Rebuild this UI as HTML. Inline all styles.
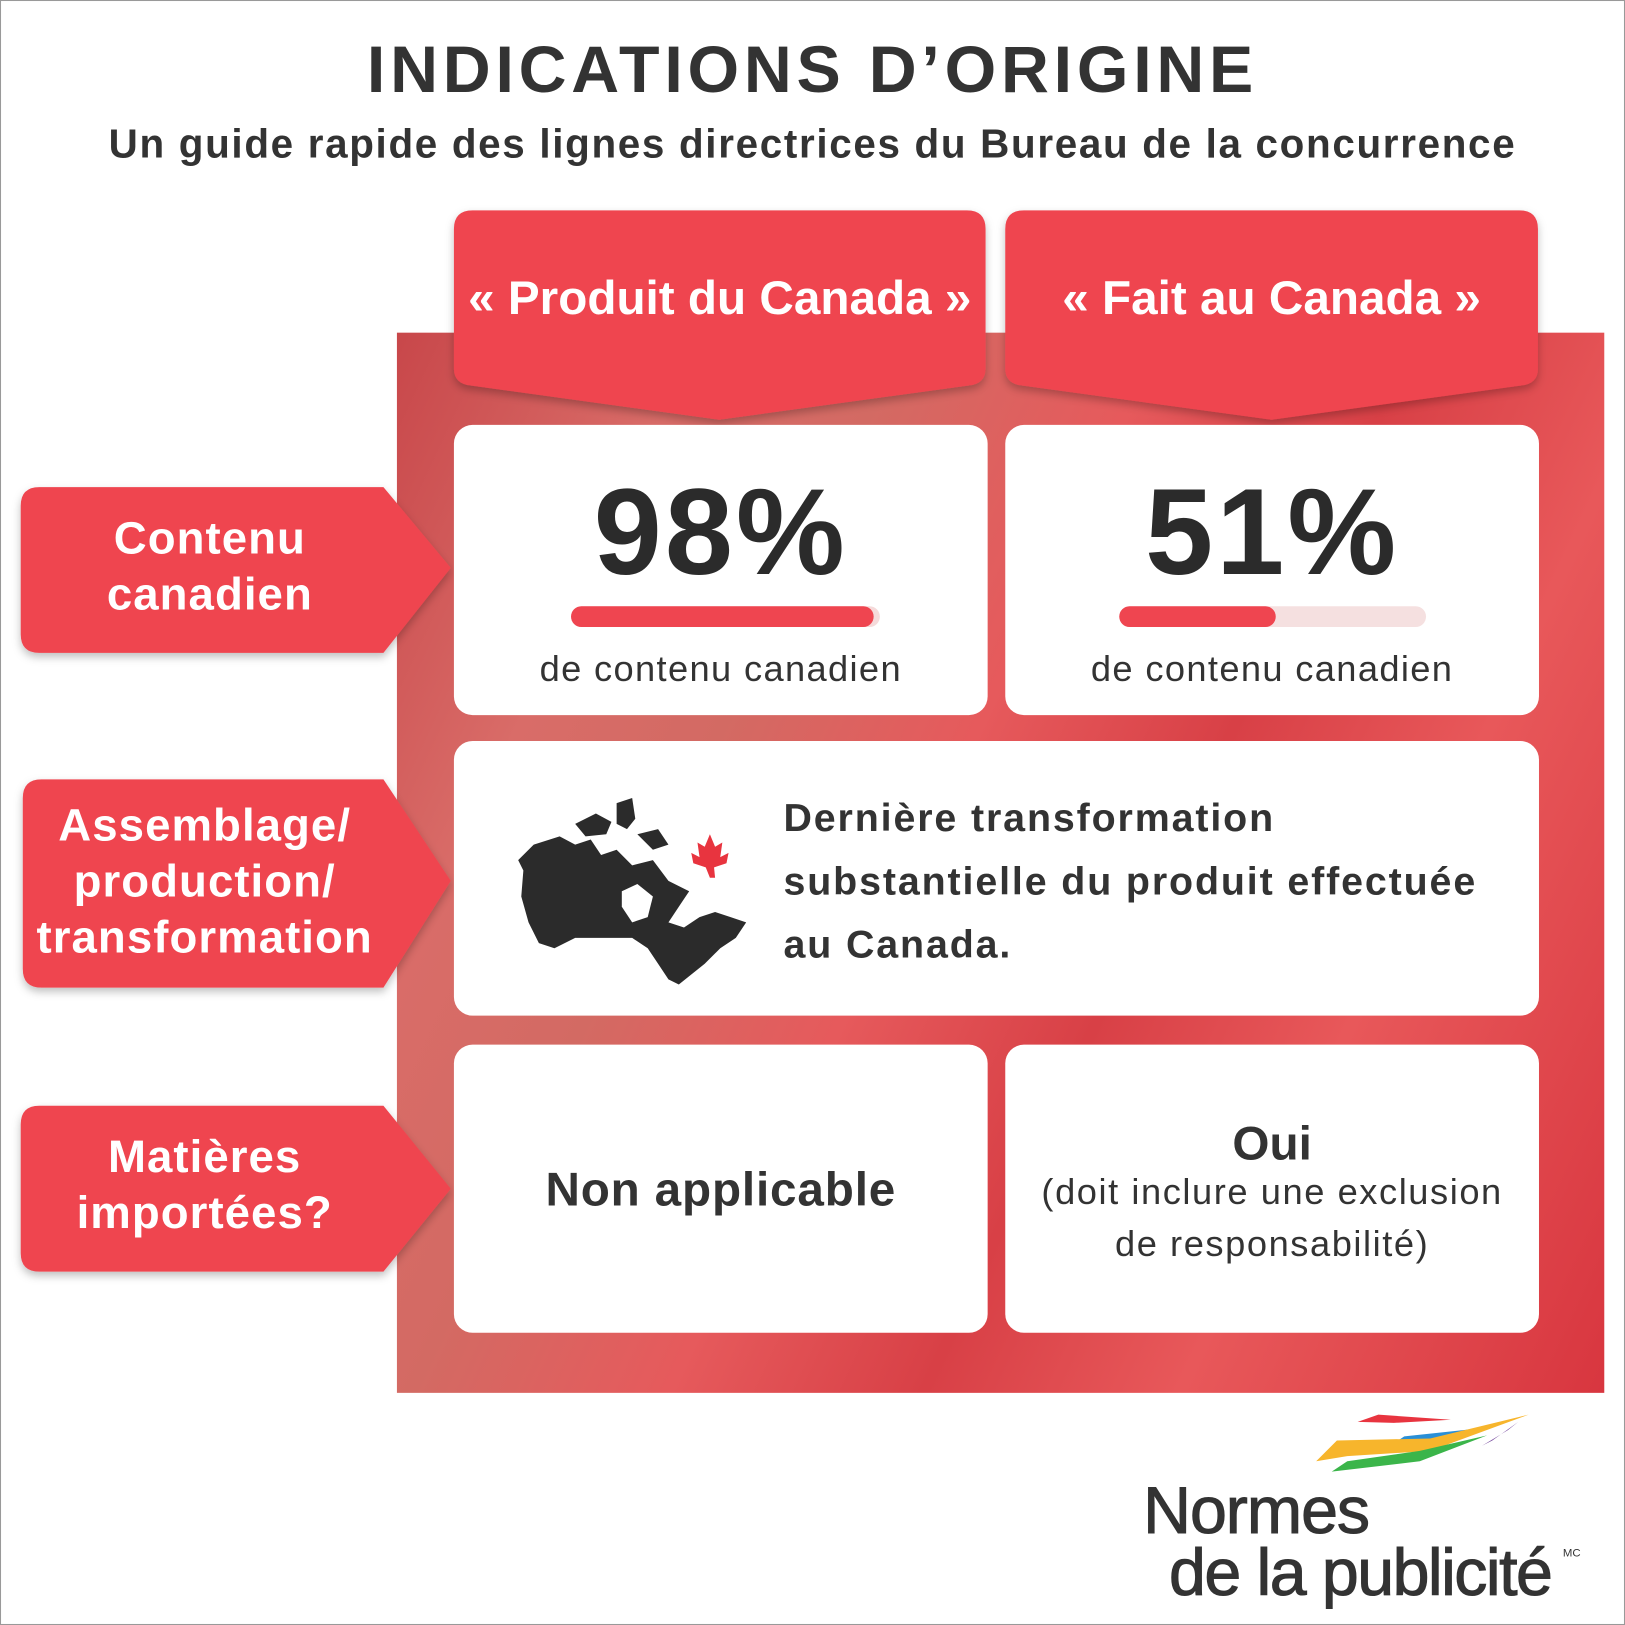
<!DOCTYPE html>
<html><head><meta charset="utf-8"><style>
html,body{margin:0;padding:0;background:#fff;}
body{width:1625px;height:1625px;overflow:hidden;}
#w{width:1568px;height:1568px;transform:scale(1.036352);transform-origin:0 0;position:relative;font-family:"Liberation Sans",Arial,sans-serif;}
.a{position:absolute;}
.frame{left:0;top:0;width:1566px;height:1566px;border:1px solid #999;}
.title{left:0;width:1568px;top:30px;text-align:center;font-size:64px;font-weight:bold;color:#333;letter-spacing:4.6px;}
.sub{left:0;width:1568px;top:118px;text-align:center;font-size:39px;font-weight:bold;color:#333;letter-spacing:1.6px;}
.bg{left:383px;top:321px;width:1165px;height:1023px;
background:linear-gradient(115deg,#c8474a 0%,#d96c68 18%,#d36a63 30%,#e65a5c 45%,#d84046 60%,#e8585a 75%,#d8363f 100%);}
.box{background:#fff;border-radius:18px;}
.tab{color:#fff;font-size:46px;font-weight:bold;text-align:center;}
.lab{color:#fff;font-weight:bold;text-align:center;line-height:54px;}
.pct{font-size:118px;font-weight:900;color:#2b2b2b;text-align:center;letter-spacing:3px;}
.sm{font-size:35px;color:#333;text-align:center;letter-spacing:1.3px;}
</style></head><body><div id="w">
<div class="a frame"></div>
<div class="a title">INDICATIONS D’ORIGINE</div>
<div class="a sub">Un guide rapide des lignes directrices du Bureau de la concurrence</div>
<div class="a bg"></div>
<svg class="a" style="left:0;top:0" width="1568" height="1568">
<defs><filter id="s" x="-10%" y="-10%" width="120%" height="130%"><feDropShadow dx="0" dy="4" stdDeviation="4" flood-opacity="0.25"/></filter></defs>
<g fill="#ef4550" filter="url(#s)">
<path d="M456 203H933Q951 203 951 221V356Q951 370 935 372L694 405L454 372Q438 370 438 356V221Q438 203 456 203Z"/>
<path d="M988 203H1466Q1484 203 1484 221V356Q1484 370 1468 372L1227 405L986 372Q970 370 970 356V221Q970 203 988 203Z"/>
<path d="M38 470H370L435 548L370 630H38Q20 630 20 612V488Q20 470 38 470Z"/>
<path d="M40 752H370L435 850L370 953H40Q22 953 22 935V770Q22 752 40 752Z"/>
<path d="M38 1067H370L435 1147L370 1227H38Q20 1227 20 1209V1085Q20 1067 38 1067Z"/>
</g>
</svg>
<div class="a tab" style="left:438px;top:260px;width:513px">« Produit du Canada »</div>
<div class="a tab" style="left:970px;top:260px;width:514px">« Fait au Canada »</div>
<div class="a lab" style="left:20px;top:493px;width:365px;font-size:44px;letter-spacing:1px">Contenu<br>canadien</div>
<div class="a lab" style="left:15px;top:770px;width:365px;font-size:44px;line-height:54px;letter-spacing:1px">Assemblage/<br>production/<br>transformation</div>
<div class="a lab" style="left:15px;top:1090px;width:365px;font-size:44px;letter-spacing:1px">Matières<br>importées?</div>

<div class="a box" style="left:438px;top:410px;width:515px;height:280px"></div>
<div class="a box" style="left:970px;top:410px;width:515px;height:280px"></div>
<div class="a box" style="left:438px;top:715px;width:1047px;height:265px"></div>
<div class="a box" style="left:438px;top:1008px;width:515px;height:278px"></div>
<div class="a box" style="left:970px;top:1008px;width:515px;height:278px"></div>

<div class="a pct" style="left:438px;top:446px;width:515px">98%</div>
<div class="a pct" style="left:970px;top:446px;width:515px">51%</div>
<div class="a" style="left:551px;top:585px;width:298px;height:20px;border-radius:10px;background:#f5dada"></div>
<div class="a" style="left:551px;top:585px;width:292px;height:20px;border-radius:10px;background:#ef4550"></div>
<div class="a" style="left:1080px;top:585px;width:296px;height:20px;border-radius:10px;background:#f5e0e0"></div>
<div class="a" style="left:1080px;top:585px;width:151px;height:20px;border-radius:10px;background:#ef4550"></div>
<div class="a sm" style="left:438px;top:626px;width:515px">de contenu canadien</div>
<div class="a sm" style="left:970px;top:626px;width:515px">de contenu canadien</div>

<svg class="a" style="left:495px;top:765px" width="235" height="190" viewBox="0 0 235 190">
<path fill="#2b2b2b" d="M20 50L45 42L60 50L75 45L85 60L100 55L115 70L135 65L150 85L170 95L160 110L150 125L165 130L180 120L195 115L210 120L225 125L215 140L200 150L185 165L160 185L150 180L140 165L130 150L115 140L60 140L40 150L25 145L15 125L8 100L10 75L5 65Z M60 30L80 20L95 28L90 40L70 42Z M100 10L115 5L118 25L110 35L100 30Z M120 40L140 35L150 50L135 55Z"/>
<path fill="#fff" d="M105 95L120 88L135 100L130 120L115 125L105 110Z"/>
<path fill="#e8343f" d="M190 40L195 52L202 48L200 62L208 58L206 68L194 72L195 82L190 82L186 72L174 68L172 58L180 62L178 48L185 52Z"/>
</svg>
<div class="a" style="left:756px;top:760px;font-size:38px;font-weight:bold;color:#333;line-height:61px;letter-spacing:1.8px">Dernière transformation<br>substantielle du produit effectuée<br>au Canada.</div>

<div class="a" style="left:438px;top:1120px;width:515px;text-align:center;font-size:46px;font-weight:bold;color:#333;letter-spacing:0.8px">Non applicable</div>
<div class="a" style="left:970px;top:1076px;width:515px;text-align:center;font-size:46px;font-weight:bold;color:#333">Oui</div>
<div class="a sm" style="left:970px;top:1126px;width:515px;line-height:50px;letter-spacing:1.5px">(doit inclure une exclusion<br>de responsabilité)</div>

<svg class="a" style="left:1260px;top:1360px" width="220" height="70">
<path fill="#e8343f" d="M25 12L45 5L115 10L60 13Z" transform="translate(25,0)"/>
<path fill="#2a8fd6" d="M140 40L155 30L230 22L170 38Z" transform="translate(-60,-4)"/>
<path fill="#f7b52c" d="M10 50L30 30L120 28L215 5L120 40L40 45Z"/>
<path fill="#3bb54a" d="M25 60L40 50L110 40L175 25L110 50Z"/>
<path fill="#7a4fa0" d="M170 35L195 20L205 12L180 30Z"/>
</svg>
<div class="a" style="left:1103px;top:1420px;font-size:64px;color:#333;letter-spacing:-1px;-webkit-text-stroke:1px #333">Normes</div>
<div class="a" style="left:1128px;top:1480px;font-size:64px;color:#333;letter-spacing:-1.5px;-webkit-text-stroke:1px #333">de la publicité</div>
<div class="a" style="left:1508px;top:1493px;font-size:11px;color:#333">MC</div>
</div></body></html>
